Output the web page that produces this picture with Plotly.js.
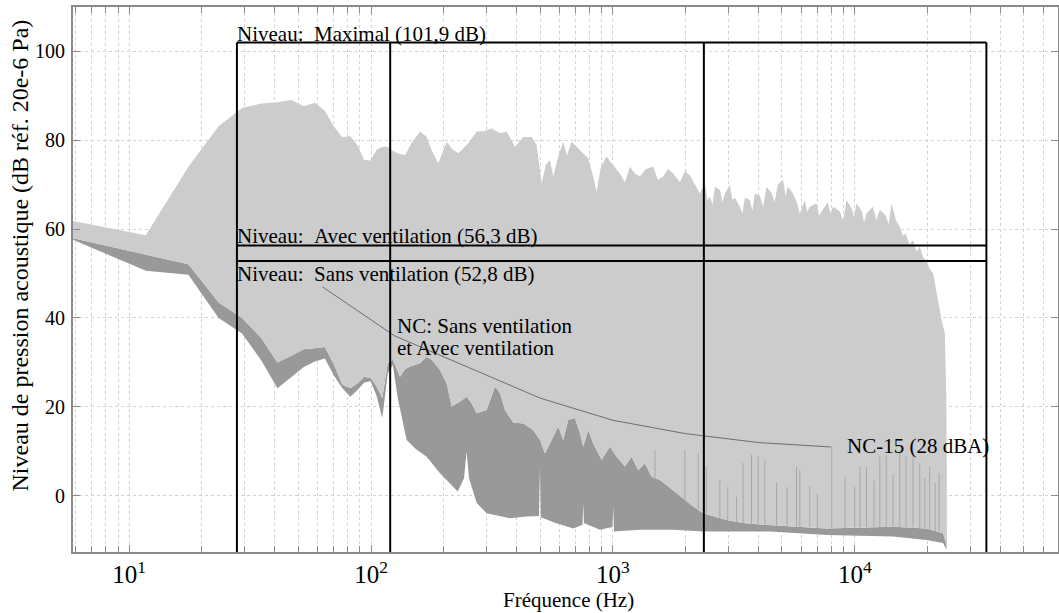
<!DOCTYPE html>
<html>
<head>
<meta charset="utf-8">
<script src="https://cdn.plot.ly/plotly-3.0.1.min.js"></script>
<style>
  html, body { margin: 0; padding: 0; background: #ffffff; }
  #chart { width: 1059px; height: 613px; }
</style>
</head>
<body>
<div id="chart"></div>
<script>
// Upper envelope of the spectra (light grey band top)
const maxHz = [5.86, 11.72, 17.58, 23.44, 29.30, 35.16, 41.02, 46.88, 52.73, 58.59, 64.45, 70.31, 76.17, 82.03, 87.89, 93.75, 99.61, 105.47, 111.33, 117.19, 123.05, 128.91,
  138.2, 147.7, 159.4, 169.9, 178.7, 189.7, 205.5, 216.1, 229.5, 252.5, 273.5, 293.1, 315.3, 341.5, 363.7, 393.6, 425.9, 461.3, 483.8, 507.4, 528.6, 549.2, 566.7, 592.6,
  623.3, 645.6, 675.1, 730.3, 790.4, 826.6, 856.1, 892.0, 941.9, 987.7, 1069, 1121, 1176, 1233, 1293, 1369, 1467, 1535, 1614, 1688, 1775, 1892, 1984, 2080, 2183, 2288,
  2400, 2460, 2517, 2580, 2640, 2768, 2840, 2903, 3044, 3120, 3193, 3348, 3430, 3512, 3683, 3770, 3862, 4050, 4180, 4316, 4539, 4660, 4807, 5054, 5170, 5286, 5559,
  5760, 5926, 6215, 6360, 6516, 6946, 7120, 7305, 7734, 7930, 8135, 8670, 8950, 9242, 9718, 9940, 10163, 10689, 10930, 11178, 11870, 12280, 12689, 13434, 13800,
  14184, 14776, 15346, 15800, 16243, 16800, 17412, 18000, 18564, 19200, 19789, 20400, 21077, 22095, 22823, 23550, 23900, 24000, 24050];
const maxDb = [61.8, 58.6, 74.0, 83.1, 87.2, 88.2, 88.5, 89.0, 87.6, 88.4, 86.5, 83.0, 80.6, 80.9, 78.8, 75.5, 75.4, 77.8, 78.5, 78.5, 77.6, 77.0,
  76.6, 79.5, 81.9, 80.7, 77.5, 74.8, 79.6, 78.0, 77.0, 79.3, 81.9, 82.0, 82.6, 81.5, 81.9, 78.5, 80.7, 80.7, 78.9, 70.3, 74.5, 75.5, 71.8, 76.0,
  79.6, 76.5, 79.6, 77.8, 75.9, 72.0, 68.4, 74.0, 76.3, 74.8, 72.5, 70.5, 74.0, 72.5, 71.8, 73.5, 74.0, 71.0, 71.8, 73.5, 72.5, 70.5, 73.0, 72.1, 70.0, 68.0,
  70.3, 66.5, 67.3, 65.5, 69.5, 68.8, 66.0, 68.0, 69.9, 66.5, 67.0, 65.0, 63.5, 67.0, 66.5, 64.0, 68.0, 67.5, 65.0, 69.5, 68.0, 66.0, 70.0, 71.0, 67.5, 69.5, 68.0,
  66.0, 63.5, 66.5, 63.8, 65.0, 65.8, 63.0, 64.0, 66.0, 63.5, 65.0, 64.0, 61.8, 66.5, 64.5, 62.5, 65.8, 64.0, 61.5, 63.5, 65.0, 62.0, 64.3, 63.0, 61.0,
  65.8, 62.0, 60.5, 58.5, 59.0, 56.5, 57.5, 55.0, 56.0, 53.5, 53.0, 51.0, 50.0, 44.0, 39.6, 36.6, 21.6, 6.6, -11.4];

// Boundary between the two bands (dark grey band top)
const midHz = [5.86, 11.72, 17.58, 23.44, 29.30, 35.16, 41.02, 46.88, 52.73, 58.59, 64.45, 70.31, 76.17, 82.03, 87.89, 93.75, 99.61, 105.47, 111.33, 117.19, 123.05,
  131.8, 138.2, 145.0, 159.4, 169.9, 178.2, 192.8, 205.5, 215.5, 233.2, 248.5, 260.7, 273.5, 300.8, 325.5, 341.5, 357.9, 387.3, 425.9, 468.6, 499.3, 523.6, 549.2,
  594.3, 623.3, 653.6, 696.6, 730.3, 754.1, 790.4, 829.0, 898.2, 971.8, 1036, 1121, 1195, 1272, 1356, 1445, 1564, 1693, 1834, 1984, 2147, 2361, 2597, 2950, 3454,
  4179, 7640, 14400, 19789, 23170, 23930];
const midDb = [57.9, 54.2, 52.1, 43.5, 40.0, 35.5, 30.0, 31.5, 33.0, 33.2, 33.5, 29.5, 25.0, 24.2, 25.3, 26.8, 26.5, 24.6, 22.0, 29.8, 30.6,
  26.8, 28.5, 29.1, 29.8, 31.3, 30.6, 28.3, 25.3, 20.1, 21.2, 22.3, 20.8, 18.6, 19.3, 24.6, 23.1, 19.3, 16.5, 16.3, 14.8, 12.6, 9.6, 11.8,
  15.6, 12.6, 17.1, 17.5, 14.1, 11.1, 14.8, 11.8, 8.1, 11.1, 8.8, 6.6, 8.8, 5.8, 7.3, 4.3, 3.6, 2.1, 0.6, -0.9, -2.4, -3.9, -4.6, -5.4, -6.1,
  -6.5, -7.3, -6.9, -7.3, -8.4, -11.0];

// Lower envelope (dark grey band bottom)
const lowHz = [5.86, 11.72, 17.58, 23.44, 29.30, 35.16, 41.02, 46.88, 52.73, 58.59, 64.45, 70.31, 76.17, 82.03, 87.89, 93.75, 99.61, 105.47, 111.33, 117.19, 123.05, 128.91,
  140.4, 153.5, 169.9, 192.8, 228.2, 242.3, 248.5, 254.1, 260.7, 273.5, 300.8, 375.4, 440, 495, 499.3, 503.5, 575.9, 685.5, 749, 754.1, 759, 883.6, 996, 1003, 1010,
  1293, 1775, 2361, 3245, 4455, 7640, 14400, 19789, 23170, 23930];
const lowDb = [57.6, 50.6, 49.7, 40.0, 36.5, 30.5, 24.2, 26.8, 29.0, 30.2, 30.9, 27.0, 24.2, 22.3, 23.8, 25.5, 25.8, 22.5, 17.5, 27.5, 29.5, 22.0,
  12.6, 10.5, 8.8, 5.1, 1.0, 4.0, 10.0, 4.0, 2.1, -1.6, -3.9, -5.0, -4.6, -4.5, 6.6, -4.8, -6.0, -7.3, -6.5, -1.6, -6.1, -7.6, -7.0, -2.4, -8.0,
  -7.6, -7.6, -8.0, -8.0, -8.0, -8.8, -9.1, -9.9, -10.6, -12.1];

// Narrow harmonic peaks rising out of the noise floor
const peakHz = [1492, 1984, 2251, 2434, 2768, 2985, 3245, 3454, 3742, 3985, 4247, 4750, 5250, 5743, 5926, 6516, 7000, 8035, 9119, 10000, 10500, 11178,
  12000, 12689, 13500, 14400, 15346, 16300, 17412, 18564, 19500, 20400, 21500, 22300];
const peakTopDb = [10.3, 10.3, 9.6, 6.6, 3.6, 2.0, -0.2, 7.4, 9.2, 8.8, 8.1, 3.0, 2.0, 6.6, 5.8, 2.1, 0.5, 11.0, 4.3, 2.0, 6.6, 6.6,
  3.5, 8.8, 9.2, 5.0, 10.0, 8.8, 10.0, 7.3, 4.0, 6.6, 3.0, 5.1];
const peakBaseDb = [3.5, -1.0, -3.0, -4.0, -5.0, -5.4, -6.0, -6.1, -6.3, -6.5, -6.5, -6.8, -7.0, -7.0, -7.0, -7.0, -7.2, -7.3, -7.2, -7.1, -7.1, -7.0,
  -7.0, -7.0, -7.0, -6.9, -7.0, -7.0, -7.1, -7.2, -7.3, -7.5, -7.8, -8.0];

// NC-15 criterion curve (octave bands)
const ncHz = [63, 125, 250, 500, 1000, 2000, 4000, 8000];
const ncDb = [47, 36, 29, 22, 17, 14, 12, 11];
const ncName = 'NC-15 (28 dBA)';
const ncNote = ['NC: Sans ventilation', 'et Avec ventilation'];

// Overall levels and frequency markers
const levelNames = ['Maximal', 'Avec ventilation', 'Sans ventilation'];
const levelDb = [101.9, 56.3, 52.8];
const levelSpanHz = [27.9, 35000];
const markerHz = [27.9, 120, 2377, 35000];

// Axes
const xRangeHz = [5.86, 69200];
const yRange = [-12.6, 109.9];
const xTickLabels = { '10': '10<sup>1</sup>' };

const FONT = '"Liberation Serif", "Times New Roman", Times, serif';
const LIGHT = '#cccccc';
const DARK = '#999999';
const GRID = '#d2d2d2';
const FRAME = '#8a8a8a';

const fmt = v => v.toFixed(1).replace('.', ',');
const lg = v => Math.log10(v);

const traces = [];

traces.push({ x: lowHz, y: lowDb, type: 'scatter', mode: 'lines', line: { width: 0, color: DARK }, hoverinfo: 'skip' });
traces.push({ x: midHz, y: midDb, type: 'scatter', mode: 'lines', fill: 'tonexty', fillcolor: DARK, line: { width: 0, color: DARK }, hoverinfo: 'skip' });
traces.push({ x: maxHz, y: maxDb, type: 'scatter', mode: 'lines', fill: 'tonexty', fillcolor: LIGHT, line: { width: 0, color: LIGHT }, hoverinfo: 'skip' });

// harmonic peaks as thin vertical strokes
const pkX = [], pkY = [];
peakHz.forEach((f, i) => { pkX.push(f, f, null); pkY.push(peakBaseDb[i], peakTopDb[i], null); });
traces.push({ x: pkX, y: pkY, type: 'scatter', mode: 'lines', line: { width: 1, color: '#a8a8a8' }, hoverinfo: 'skip' });

// NC curve
traces.push({ x: ncHz, y: ncDb, type: 'scatter', mode: 'lines', line: { width: 1, color: '#6e6e6e' }, hoverinfo: 'skip' });

// level lines
const lvX = [], lvY = [];
levelDb.forEach(v => { lvX.push(levelSpanHz[0], levelSpanHz[1], null); lvY.push(v, v, null); });
markerHz.forEach(f => { lvX.push(f, f, null); lvY.push(yRange[0], levelDb[0], null); });
traces.push({ x: lvX, y: lvY, type: 'scatter', mode: 'lines', line: { width: 2, color: '#000000' }, hoverinfo: 'skip' });

const txt = { family: FONT, size: 21, color: '#000000' };
const annotations = [];
levelNames.forEach((name, i) => {
  const above = i < 2;
  annotations.push({
    x: lg(levelSpanHz[0]), y: levelDb[i], xref: 'x', yref: 'y',
    text: 'Niveau:\u00a0\u00a0' + name + ' (' + fmt(levelDb[i]) + ' dB)',
    showarrow: false, xanchor: 'left', yanchor: above ? 'bottom' : 'top',
    xshift: -2, yshift: above ? -5 : 1, font: txt
  });
});
annotations.push({ x: lg(125.7), y: 36.2, xref: 'x', yref: 'y', text: ncNote[0], showarrow: false, xanchor: 'left', yanchor: 'bottom', yshift: -5, font: txt });
annotations.push({ x: lg(125.7), y: 31.2, xref: 'x', yref: 'y', text: ncNote[1], showarrow: false, xanchor: 'left', yanchor: 'bottom', yshift: -5, font: txt });
annotations.push({ x: lg(ncHz[ncHz.length - 1]), y: ncDb[ncDb.length - 1], xref: 'x', yref: 'y', text: ncName, showarrow: false, xanchor: 'left', yanchor: 'middle', xshift: 14, yshift: 1, font: txt });

// axis titles
annotations.push({ x: 0.503, y: -0.088, xref: 'paper', yref: 'paper', text: 'Fréquence (Hz)', showarrow: false, xanchor: 'center', yanchor: 'middle', font: { family: FONT, size: 21, color: '#000000' } });
annotations.push({ x: -0.0538, y: 0.544, xref: 'paper', yref: 'paper', text: 'Niveau de pression acoustique (dB réf. 20e-6 Pa)', textangle: -90, showarrow: false, xanchor: 'center', yanchor: 'middle', font: { family: FONT, size: 24, color: '#000000' } });

const layout = {
  width: 1059, height: 613,
  margin: { l: 73, r: 1, t: 7, b: 61, pad: 0 },
  paper_bgcolor: '#ffffff', plot_bgcolor: '#ffffff',
  showlegend: false,
  font: { family: FONT, size: 20, color: '#000000' },
  xaxis: {
    type: 'log', range: [lg(xRangeHz[0]), lg(xRangeHz[1])], dtick: 1,
    exponentformat: 'power', labelalias: xTickLabels,
    ticks: 'inside', ticklen: 7, tickwidth: 1, tickcolor: FRAME,
    showline: true, linecolor: FRAME, linewidth: 2, mirror: 'allticks',
    showgrid: true, gridcolor: GRID, griddash: 'dot', gridwidth: 1,
    minor: { dtick: 'D1', ticks: 'inside', ticklen: 6, tickcolor: FRAME, showgrid: true, gridcolor: GRID, griddash: 'dot', gridwidth: 1 },
    zeroline: false, ticklabelstandoff: 0,
    tickfont: { family: FONT, size: 20, color: '#000000' }
  },
  yaxis: {
    range: yRange, tick0: 0, dtick: 20,
    ticks: 'inside', ticklen: 7, tickwidth: 1, tickcolor: FRAME,
    showline: true, linecolor: FRAME, linewidth: 2, mirror: 'ticks',
    showgrid: true, gridcolor: GRID, griddash: 'dot', gridwidth: 1,
    zeroline: false, ticklabelstandoff: 2,
    tickfont: { family: FONT, size: 20, color: '#000000' }
  },
  annotations: annotations
};

Plotly.newPlot('chart', traces, layout, { staticPlot: true, displayModeBar: false });
</script>
</body>
</html>
